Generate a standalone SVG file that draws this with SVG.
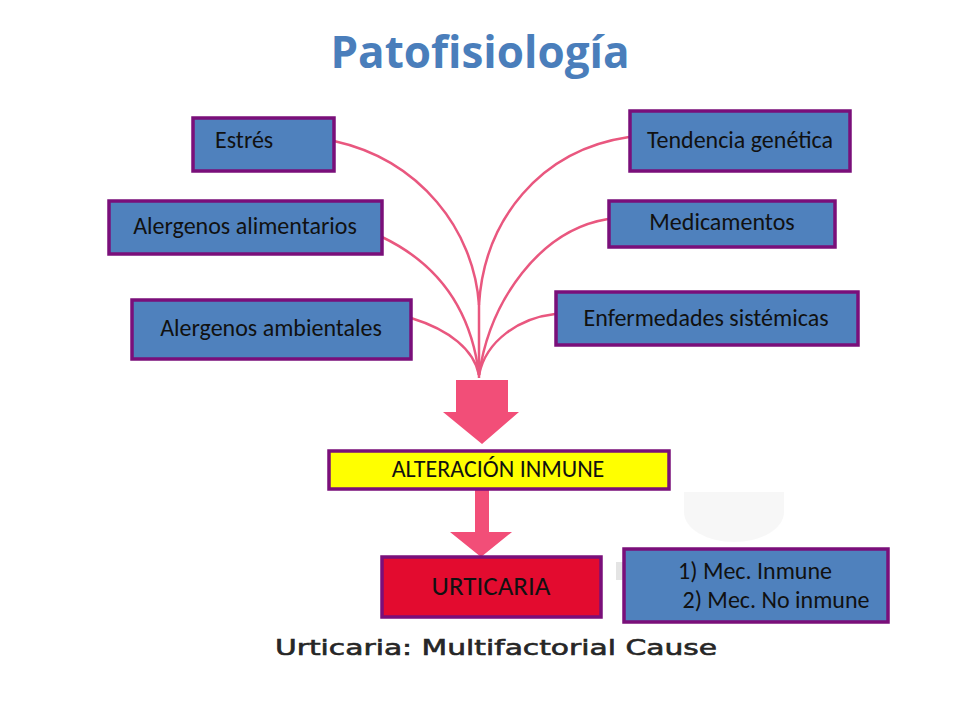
<svg xmlns="http://www.w3.org/2000/svg" width="960" height="720" viewBox="0 0 960 720">
<style>
.box{fill:#4F81BD;stroke:#7A0F7A;stroke-width:3.5}
.t{font-family:Calibri,Carlito,"Open Sans","Liberation Sans",sans-serif;font-size:24px;fill:#111}
.c{fill:none;stroke:#E9577F;stroke-width:2.5}
.arr{fill:#F24E78}
</style>
<rect width="960" height="720" fill="#fff"/>
<text x="480" y="68" text-anchor="middle" font-family="'Open Sans','Liberation Sans',sans-serif" font-weight="bold" font-size="44" fill="#4A7EBB">Patofisiología</text>
<path d="M684 492 L684 512 A50 30 0 0 0 784 512 L784 492 Z" fill="#f5f5f5" opacity="0.8"/>
<rect x="616" y="562" width="14" height="18" fill="#e4e4e4"/>
<g id="connectors">
<path class="c" d="M334 141 C420 160 474 230 479 305 L479 378"/>
<path class="c" d="M382 237 C430 260 470 300 479 375"/>
<path class="c" d="M411 318 C450 330 474 350 479 375"/>
<path class="c" d="M629 137 C540 150 484 220 479 305"/>
<path class="c" d="M608 219 C540 230 490 300 479 375"/>
<path class="c" d="M555 314 C520 318 486 340 479 375"/>
<path class="arr" d="M456 380 L508 380 L508 412 L519 412 L482 444 L443 412 L456 412 Z"/>
<path class="arr" d="M475 489 L489 489 L489 532 L512 532 L481 557 L450 532 L475 532 Z"/>
</g>
<g id="estres"><rect class="box" x="193" y="118" width="141" height="53"/><text class="t" x="215" y="148">Estrés</text></g>
<g id="alimentarios"><rect class="box" x="109" y="201" width="273" height="53"/><text class="t" x="245" y="234" text-anchor="middle">Alergenos alimentarios</text></g>
<g id="ambientales"><rect class="box" x="132" y="300" width="279" height="59"/><text class="t" x="271" y="336" text-anchor="middle">Alergenos ambientales</text></g>
<g id="tendencia"><rect class="box" x="630" y="111" width="220" height="60"/><text class="t" x="740" y="148" text-anchor="middle">Tendencia genética</text></g>
<g id="medicamentos"><rect class="box" x="609" y="201" width="226" height="46"/><text class="t" x="722" y="230" text-anchor="middle">Medicamentos</text></g>
<g id="enfermedades"><rect class="box" x="556" y="292" width="302" height="53"/><text class="t" x="706" y="326" text-anchor="middle">Enfermedades sistémicas</text></g>
<g id="alteracion"><rect x="329" y="451" width="340" height="38" fill="#FFFF00" stroke="#7A0F7A" stroke-width="3.5"/><text class="t" x="498" y="477" text-anchor="middle">ALTERACIÓN INMUNE</text></g>
<g id="urticaria"><rect x="382" y="557" width="219" height="60" fill="#E30B2F" stroke="#7A0F7A" stroke-width="3.5"/><text class="t" x="491" y="595" text-anchor="middle" style="font-size:27px">URTICARIA</text></g>
<g id="mecanismos"><rect class="box" x="624" y="549" width="264" height="73"/><text class="t" x="755" y="579" text-anchor="middle">1) Mec. Inmune</text><text class="t" x="776" y="608" text-anchor="middle">2) Mec. No inmune</text></g>
<text x="275" y="655" font-family="'DejaVu Sans',sans-serif" font-size="21" fill="#262626" stroke="#262626" stroke-width="0.6" textLength="442" lengthAdjust="spacingAndGlyphs">Urticaria: Multifactorial Cause</text>
</svg>
